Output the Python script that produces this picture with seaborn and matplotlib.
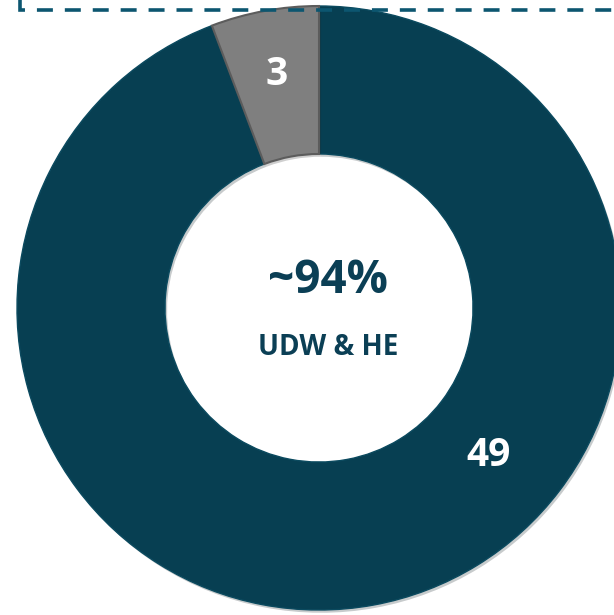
"""
Donut chart: share of UDW & HE items (49 of 52) vs others (3).
"""
import matplotlib

matplotlib.use("Agg")
import matplotlib.pyplot as plt
import numpy as np
import seaborn as sns
from matplotlib import patheffects

# data
segments = ["UDW & HE", "Other"]
counts = [49, 3]
segment_colors = ["#073f52", "#7f7f7f"]
center_value = "~94%"
center_label = "UDW & HE"

sns.set_theme(style="white")
plt.rcParams["font.family"] = ["Open Sans", "DejaVu Sans"]
plt.rcParams["lines.scale_dashes"] = False

W, H = 614, 615
CX, CY, R = 319, 308, 302  # donut centre / radius in pixels

fig = plt.figure(figsize=(W / 100, H / 100), dpi=100)
ax = fig.add_axes([0, 0, 1, 1])

wedges, _ = ax.pie(
    counts,
    colors=segment_colors,
    startangle=90,
    counterclock=False,
    radius=1.0,
    wedgeprops=dict(width=0.49, linewidth=1.0, edgecolor="#0b4a5f"),
)
wedges[1].set_edgecolor("#5c5c5c")
wedges[1].set_linewidth(1.5)
for w in wedges:
    w.set_path_effects([
        patheffects.SimplePatchShadow(offset=(1.5, -2), alpha=0.22),
        patheffects.Normal(),
    ])

# pixel-consistent limits so the donut sits like the reference
ax.set_xlim(-CX / R, (W - CX) / R)
ax.set_ylim(-(H - CY) / R, CY / R)
ax.set_aspect("equal")
ax.axis("off")

# slice labels
label_pos = {0: (-41, 0.742), 1: (None, 0.785)}
for i, w in enumerate(wedges):
    ang, dist = label_pos[i]
    if ang is None:
        ang = (w.theta1 + w.theta2) / 2
    a = np.deg2rad(ang)
    ax.text(dist * np.cos(a), dist * np.sin(a), str(counts[i]),
            ha="center", va="center", color="white",
            fontsize=28, fontweight="bold")

# centre text
ax.text(0.03, 0.09, center_value, ha="center", va="center",
        color="#0b3f55", fontsize=33, fontweight="bold")
ax.text(0.03, -0.13, center_label, ha="center", va="center",
        color="#0b3f55", fontsize=20, fontweight="bold")

# dashed frame edge at the top
px = np.array([20, 20, 614])
py = np.array([-4, 10, 10])
ax.plot(px / W, 1 - py / H, transform=ax.transAxes, color="#0c5670",
        linewidth=2.6, dashes=(11.5, 8.6), clip_on=False,
        solid_joinstyle="miter", dash_joinstyle="miter", dash_capstyle="butt")

fig.savefig("out.png", dpi=100)
